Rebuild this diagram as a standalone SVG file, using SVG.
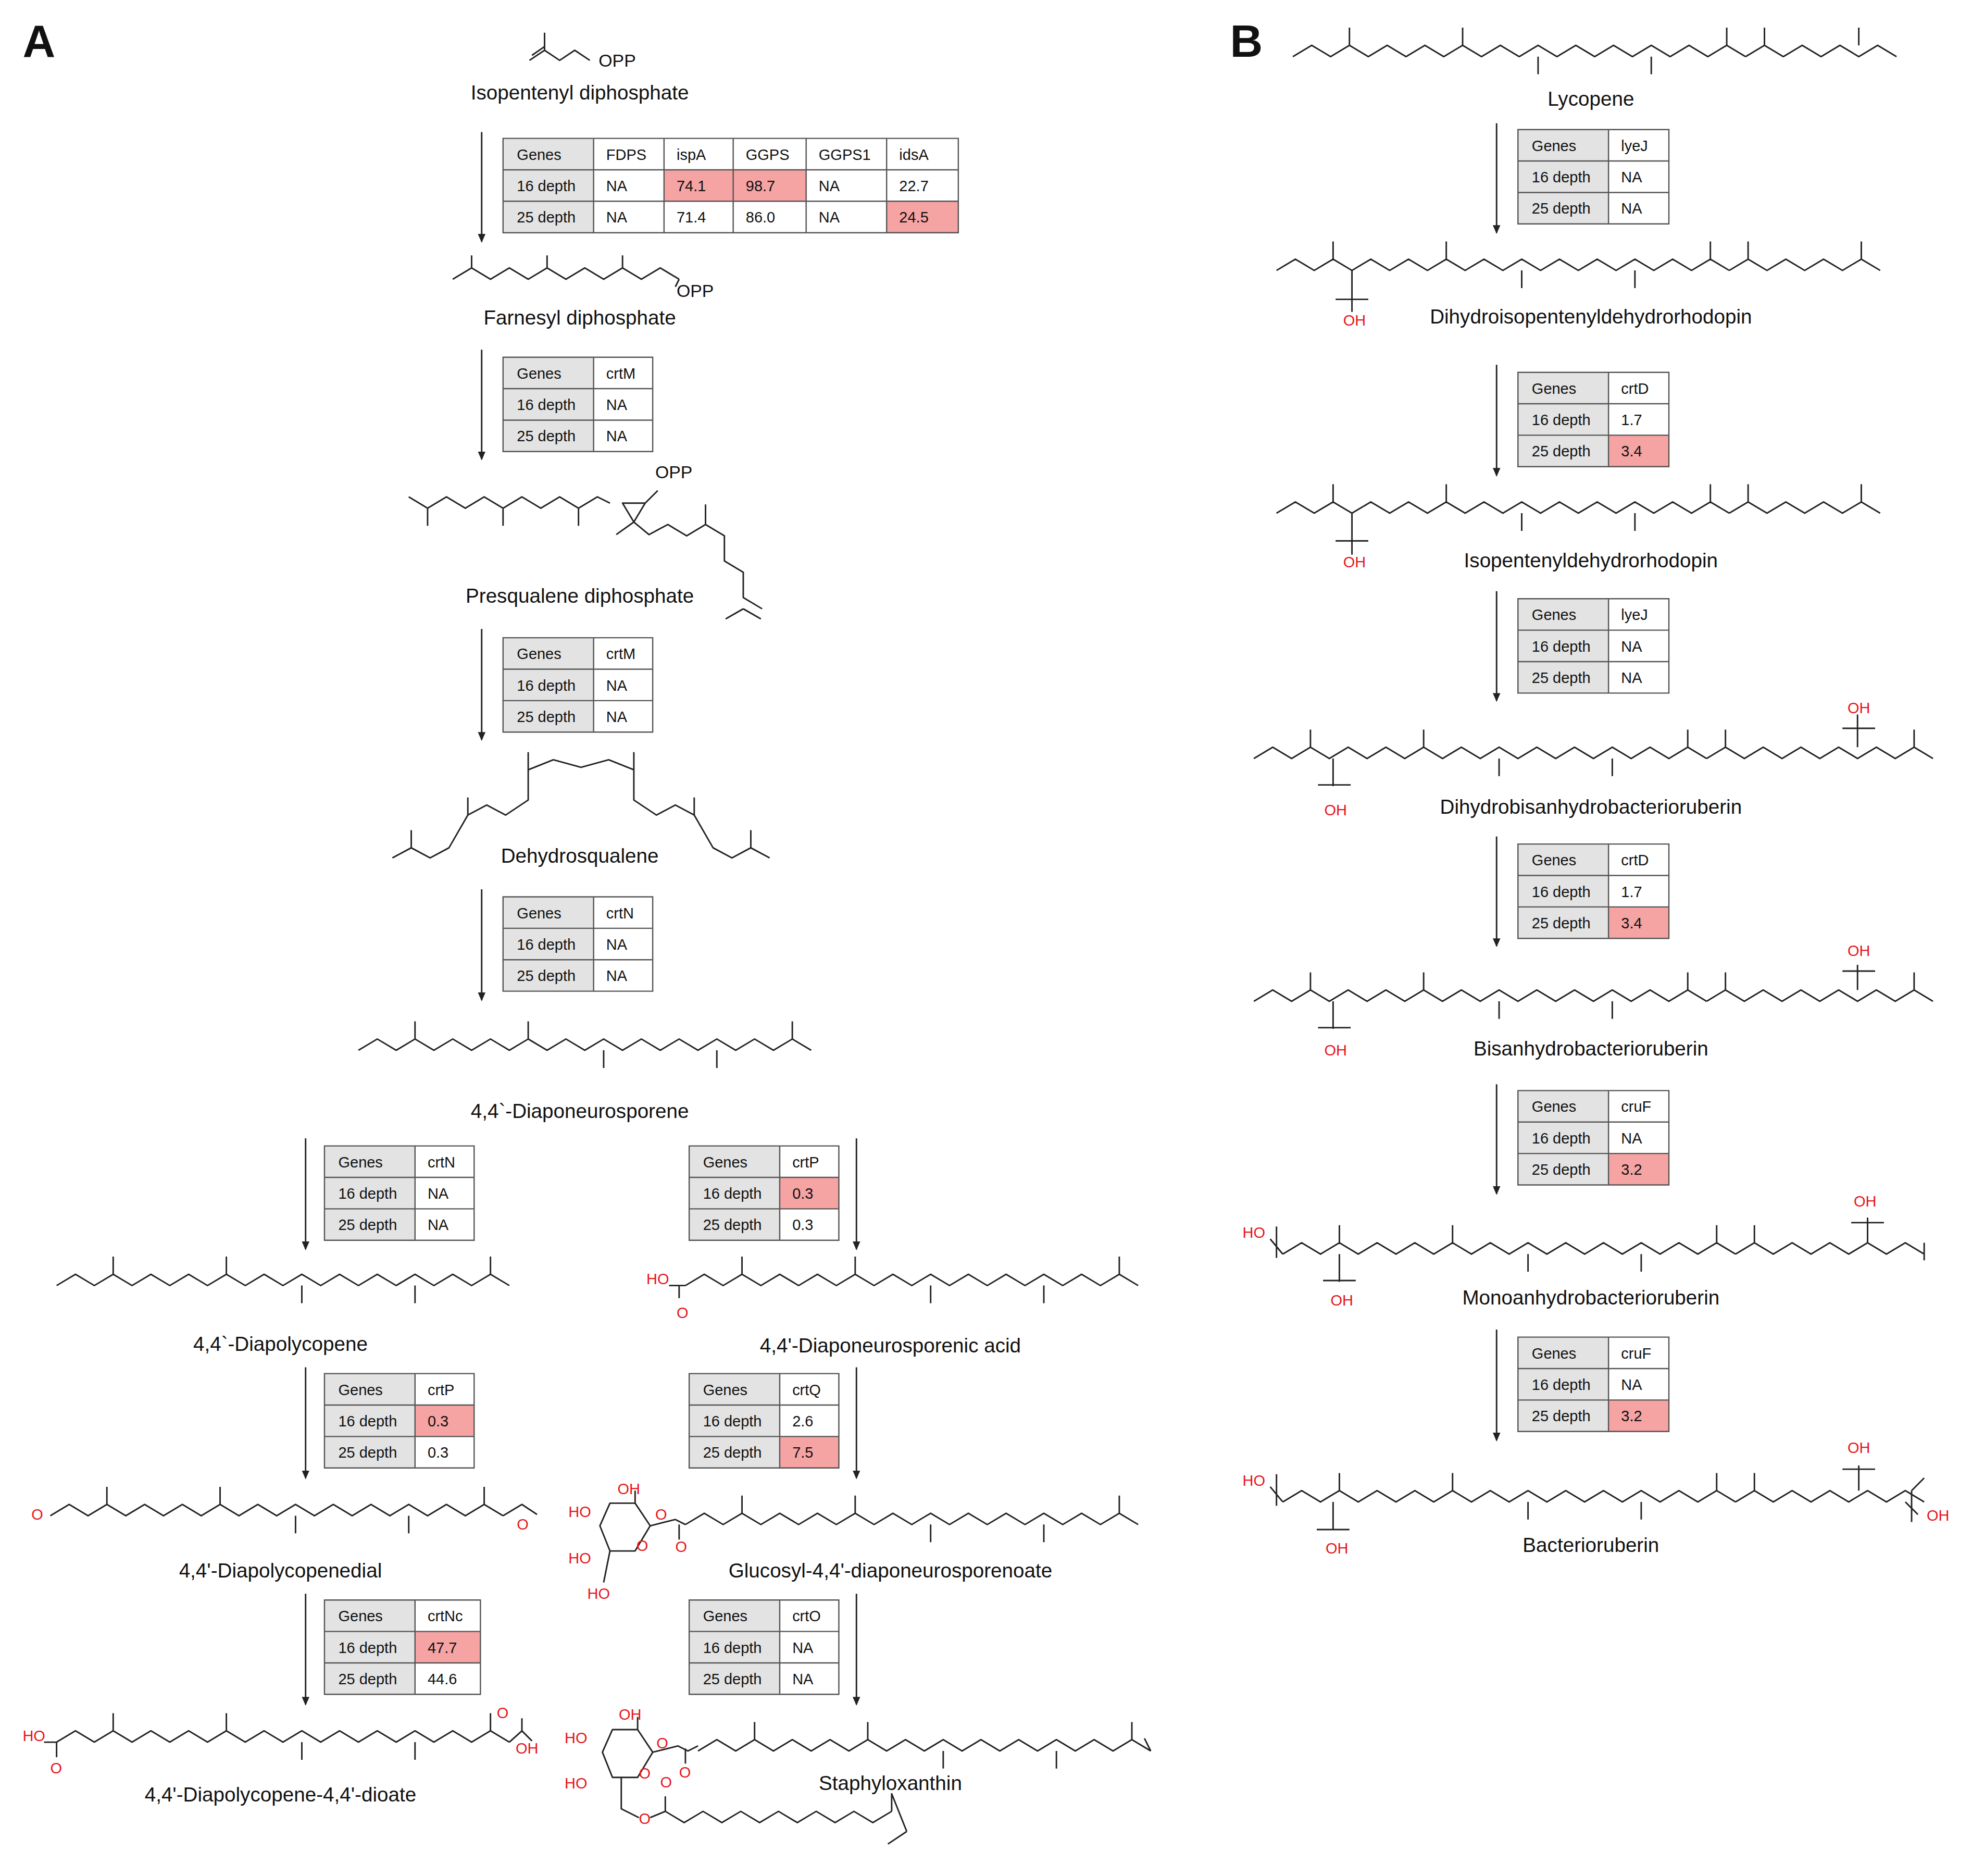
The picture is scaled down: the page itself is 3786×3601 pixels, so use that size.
<svg xmlns="http://www.w3.org/2000/svg" width="3786" height="3601" viewBox="0 0 3786 3601">
<style>
text{font-family:"Liberation Sans",Arial,sans-serif;fill:#111}
.lb{font-size:16px}
.tt{font-size:12px}
.big{font-size:36px;font-weight:bold}
.r{fill:#e8141a}
.ch{fill:none;stroke:#222;stroke-width:1.2;stroke-linejoin:round}
.gr{fill:#e3e3e3}
.rd{fill:#f5a3a3}
.gl{fill:none;stroke:#555;stroke-width:1}
.ar{stroke:#222;stroke-width:1.2;marker-end:url(#ah)}
</style>
<defs>
<marker id="ah" markerWidth="8" markerHeight="8" refX="6" refY="4" orient="auto" markerUnits="userSpaceOnUse"><path d="M0,1 L7,4 L0,7z" fill="#222"/></marker>
<path id="p12" d="M0,0 l15-9 15 9 15-9 15 9 15-9 15 9 15-9 15 9 15-9 15 9 15-9 15 9 15-9 15 9 15-9 15 9 15-9 15 9 15-9 15 9 15-9 15 9 15-9 15 9"/>
<path id="m12" d="M45,-9 v-14 M135,-9 v-14 M195,0 v14 M285,0 v14 M345,-9 v-14"/>
</defs>
<rect width="3786" height="3601" fill="#fff"/>
<g transform="scale(2.4145)">
<text class="big" x="18" y="45">A</text>
<text class="big" x="978" y="45">B</text>

<g id="connectors">
<line class="ar" x1="383" y1="105" x2="383" y2="192"/>
<line class="ar" x1="383" y1="278" x2="383" y2="365"/>
<line class="ar" x1="383" y1="500" x2="383" y2="588"/>
<line class="ar" x1="383" y1="707" x2="383" y2="795"/>
<line class="ar" x1="243" y1="905" x2="243" y2="993"/>
<line class="ar" x1="681" y1="905" x2="681" y2="993"/>
<line class="ar" x1="243" y1="1087" x2="243" y2="1175"/>
<line class="ar" x1="681" y1="1087" x2="681" y2="1175"/>
<line class="ar" x1="243" y1="1267" x2="243" y2="1355"/>
<line class="ar" x1="681" y1="1267" x2="681" y2="1355"/>
<line class="ar" x1="1190" y1="98" x2="1190" y2="185"/>
<line class="ar" x1="1190" y1="290" x2="1190" y2="378"/>
<line class="ar" x1="1190" y1="470" x2="1190" y2="557"/>
<line class="ar" x1="1190" y1="665" x2="1190" y2="752"/>
<line class="ar" x1="1190" y1="862" x2="1190" y2="949"/>
<line class="ar" x1="1190" y1="1057" x2="1190" y2="1145"/>
</g>

<g id="t1" transform="translate(400,110)">
<rect class="gr" width="72" height="75"/><rect class="rd" x="128" y="25" width="55" height="25"/><rect class="rd" x="183" y="25" width="58" height="25"/><rect class="rd" x="305" y="50" width="57" height="25"/>
<path class="gl" d="M0,0h362v75h-362z M0,25h362 M0,50h362 M72,0v75 M128,0v75 M183,0v75 M241,0v75 M305,0v75"/>
<g class="tt"><text x="11" y="17">Genes</text><text x="11" y="42">16 depth</text><text x="11" y="67">25 depth</text>
<text x="82" y="17">FDPS</text><text x="82" y="42">NA</text><text x="82" y="67">NA</text>
<text x="138" y="17">ispA</text><text x="138" y="42">74.1</text><text x="138" y="67">71.4</text>
<text x="193" y="17">GGPS</text><text x="193" y="42">98.7</text><text x="193" y="67">86.0</text>
<text x="251" y="17">GGPS1</text><text x="251" y="42">NA</text><text x="251" y="67">NA</text>
<text x="315" y="17">idsA</text><text x="315" y="42">22.7</text><text x="315" y="67">24.5</text></g>
</g>
<g id="t2" transform="translate(400,284)"><rect class="gr" width="72" height="75"/><path class="gl" d="M0,0h119v75h-119z M0,25h119 M0,50h119 M72,0v75"/><g class="tt"><text x="11" y="17">Genes</text><text x="11" y="42">16 depth</text><text x="11" y="67">25 depth</text><text x="82" y="17">crtM</text><text x="82" y="42">NA</text><text x="82" y="67">NA</text></g></g>
<g id="t3" transform="translate(400,507)"><rect class="gr" width="72" height="75"/><path class="gl" d="M0,0h119v75h-119z M0,25h119 M0,50h119 M72,0v75"/><g class="tt"><text x="11" y="17">Genes</text><text x="11" y="42">16 depth</text><text x="11" y="67">25 depth</text><text x="82" y="17">crtM</text><text x="82" y="42">NA</text><text x="82" y="67">NA</text></g></g>
<g id="t4" transform="translate(400,713)"><rect class="gr" width="72" height="75"/><path class="gl" d="M0,0h119v75h-119z M0,25h119 M0,50h119 M72,0v75"/><g class="tt"><text x="11" y="17">Genes</text><text x="11" y="42">16 depth</text><text x="11" y="67">25 depth</text><text x="82" y="17">crtN</text><text x="82" y="42">NA</text><text x="82" y="67">NA</text></g></g>
<g id="t5" transform="translate(258,911)"><rect class="gr" width="72" height="75"/><path class="gl" d="M0,0h119v75h-119z M0,25h119 M0,50h119 M72,0v75"/><g class="tt"><text x="11" y="17">Genes</text><text x="11" y="42">16 depth</text><text x="11" y="67">25 depth</text><text x="82" y="17">crtN</text><text x="82" y="42">NA</text><text x="82" y="67">NA</text></g></g>
<g id="t6" transform="translate(548,911)"><rect class="gr" width="72" height="75"/><rect class="rd" x="72" y="25" width="47" height="25"/><path class="gl" d="M0,0h119v75h-119z M0,25h119 M0,50h119 M72,0v75"/><g class="tt"><text x="11" y="17">Genes</text><text x="11" y="42">16 depth</text><text x="11" y="67">25 depth</text><text x="82" y="17">crtP</text><text x="82" y="42">0.3</text><text x="82" y="67">0.3</text></g></g>
<g id="t7" transform="translate(258,1092)"><rect class="gr" width="72" height="75"/><rect class="rd" x="72" y="25" width="47" height="25"/><path class="gl" d="M0,0h119v75h-119z M0,25h119 M0,50h119 M72,0v75"/><g class="tt"><text x="11" y="17">Genes</text><text x="11" y="42">16 depth</text><text x="11" y="67">25 depth</text><text x="82" y="17">crtP</text><text x="82" y="42">0.3</text><text x="82" y="67">0.3</text></g></g>
<g id="t8" transform="translate(548,1092)"><rect class="gr" width="72" height="75"/><rect class="rd" x="72" y="50" width="47" height="25"/><path class="gl" d="M0,0h119v75h-119z M0,25h119 M0,50h119 M72,0v75"/><g class="tt"><text x="11" y="17">Genes</text><text x="11" y="42">16 depth</text><text x="11" y="67">25 depth</text><text x="82" y="17">crtQ</text><text x="82" y="42">2.6</text><text x="82" y="67">7.5</text></g></g>
<g id="t9" transform="translate(258,1272)"><rect class="gr" width="72" height="75"/><rect class="rd" x="72" y="25" width="52" height="25"/><path class="gl" d="M0,0h124v75h-124z M0,25h124 M0,50h124 M72,0v75"/><g class="tt"><text x="11" y="17">Genes</text><text x="11" y="42">16 depth</text><text x="11" y="67">25 depth</text><text x="82" y="17">crtNc</text><text x="82" y="42">47.7</text><text x="82" y="67">44.6</text></g></g>
<g id="t10" transform="translate(548,1272)"><rect class="gr" width="72" height="75"/><path class="gl" d="M0,0h119v75h-119z M0,25h119 M0,50h119 M72,0v75"/><g class="tt"><text x="11" y="17">Genes</text><text x="11" y="42">16 depth</text><text x="11" y="67">25 depth</text><text x="82" y="17">crtO</text><text x="82" y="42">NA</text><text x="82" y="67">NA</text></g></g>

<g id="tb1" transform="translate(1207,103)"><rect class="gr" width="72" height="75"/><path class="gl" d="M0,0h120v75h-120z M0,25h120 M0,50h120 M72,0v75"/><g class="tt"><text x="11" y="17">Genes</text><text x="11" y="42">16 depth</text><text x="11" y="67">25 depth</text><text x="82" y="17">lyeJ</text><text x="82" y="42">NA</text><text x="82" y="67">NA</text></g></g>
<g id="tb2" transform="translate(1207,296)"><rect class="gr" width="72" height="75"/><rect class="rd" x="72" y="50" width="48" height="25"/><path class="gl" d="M0,0h120v75h-120z M0,25h120 M0,50h120 M72,0v75"/><g class="tt"><text x="11" y="17">Genes</text><text x="11" y="42">16 depth</text><text x="11" y="67">25 depth</text><text x="82" y="17">crtD</text><text x="82" y="42">1.7</text><text x="82" y="67">3.4</text></g></g>
<g id="tb3" transform="translate(1207,476)"><rect class="gr" width="72" height="75"/><path class="gl" d="M0,0h120v75h-120z M0,25h120 M0,50h120 M72,0v75"/><g class="tt"><text x="11" y="17">Genes</text><text x="11" y="42">16 depth</text><text x="11" y="67">25 depth</text><text x="82" y="17">lyeJ</text><text x="82" y="42">NA</text><text x="82" y="67">NA</text></g></g>
<g id="tb4" transform="translate(1207,671)"><rect class="gr" width="72" height="75"/><rect class="rd" x="72" y="50" width="48" height="25"/><path class="gl" d="M0,0h120v75h-120z M0,25h120 M0,50h120 M72,0v75"/><g class="tt"><text x="11" y="17">Genes</text><text x="11" y="42">16 depth</text><text x="11" y="67">25 depth</text><text x="82" y="17">crtD</text><text x="82" y="42">1.7</text><text x="82" y="67">3.4</text></g></g>
<g id="tb5" transform="translate(1207,867)"><rect class="gr" width="72" height="75"/><rect class="rd" x="72" y="50" width="48" height="25"/><path class="gl" d="M0,0h120v75h-120z M0,25h120 M0,50h120 M72,0v75"/><g class="tt"><text x="11" y="17">Genes</text><text x="11" y="42">16 depth</text><text x="11" y="67">25 depth</text><text x="82" y="17">cruF</text><text x="82" y="42">NA</text><text x="82" y="67">3.2</text></g></g>
<g id="tb6" transform="translate(1207,1063)"><rect class="gr" width="72" height="75"/><rect class="rd" x="72" y="50" width="48" height="25"/><path class="gl" d="M0,0h120v75h-120z M0,25h120 M0,50h120 M72,0v75"/><g class="tt"><text x="11" y="17">Genes</text><text x="11" y="42">16 depth</text><text x="11" y="67">25 depth</text><text x="82" y="17">cruF</text><text x="82" y="42">NA</text><text x="82" y="67">3.2</text></g></g>

<g id="ipp"><path class="ch" d="M421,48 l12,-8 v-14 M433,40 l12,8 12,-8 12,8 M423,44 l10,-7"/><text x="476" y="53" style="font-size:14px">OPP</text></g>
<text class="lb" x="461" y="79" text-anchor="middle">Isopentenyl diphosphate</text>
<g id="fpp"><path class="ch" d="M360,222 l15-9 15 9 15-9 15 9 15-9 15 9 15-9 15 9 15-9 15 9 15-9 15 9 M375,213 v-10 M435,213 v-10 M495,213 v-10 M540,222 l-3,6"/><text x="538" y="236" style="font-size:14px">OPP</text></g>
<text class="lb" x="461" y="258" text-anchor="middle">Farnesyl diphosphate</text>
<g id="psq"><path class="ch" d="M325,395 l15,9 15-9 15 9 15-9 15 9 15-9 15 9 15-9 15 9 15-9 10 5 M340,404 v14 M400,404 v14 M460,404 v14 M495,400 l18,0 -9,15z M513,400 l10,-10 M504,415 l-14,10 M504,415 l12,10 15,-8 15,9 15,-9 15,9 v20 l15,9 v20 l15,9 M561,417 v-16 M591,484 l-14,8 M591,484 l14,8"/><text x="521" y="380" style="font-size:14px">OPP</text></g>
<text class="lb" x="461" y="479" text-anchor="middle">Presqualene diphosphate</text>
<g id="dhs"><path class="ch" d="M312,682 L327,674 342,682 357,674 372,648 387,640 402,648 420,636 420,612 440,604 462,610 484,604 504,612 504,636 522,648 537,640 552,648 567,674 582,682 597,674 612,682 M327,674 v-14 M372,648 v-14 M420,612 v-14 M504,612 v-14 M552,648 v-14 M597,674 v-14"/></g>
<text class="lb" x="461" y="686" text-anchor="middle">Dehydrosqualene</text>
<g id="dnp" class="ch"><use href="#p12" x="285" y="835"/><use href="#m12" x="285" y="835"/></g>
<text class="lb" x="461" y="889" text-anchor="middle">4,4`-Diaponeurosporene</text>
<g id="dpl" class="ch"><use href="#p12" x="45" y="1022"/><use href="#m12" x="45" y="1022"/></g>
<text class="lb" x="223" y="1074" text-anchor="middle">4,4`-Diapolycopene</text>
<g id="dna"><g class="ch"><use href="#p12" x="545" y="1022"/><use href="#m12" x="545" y="1022"/><path d="M532,1022 l13,0 M540,1022 v10"/></g><text class="tt r" x="514" y="1021">HO</text><text class="tt r" x="538" y="1048">O</text></g>
<text class="lb" x="708" y="1075" text-anchor="middle">4,4'-Diaponeurosporenic acid</text>
<g id="dpd"><g class="ch"><use href="#p12" x="40" y="1205"/><use href="#m12" x="40" y="1205"/><path d="M400,1205 l15,-9 12,8"/></g><text class="tt r" x="25" y="1208">O</text><text class="tt r" x="411" y="1216">O</text></g>
<text class="lb" x="223" y="1254" text-anchor="middle">4,4'-Diapolycopenedial</text>
<g id="glc"><g class="ch"><use href="#p12" x="545" y="1212"/><use href="#m12" x="545" y="1212"/><path d="M485,1195 l20,0 12,18 -12,20 -20,0 -8,-20z M485,1233 l-5,25 M505,1195 v-10 M517,1213 l20,-5 8,4 M540,1212 v12"/></g><text class="tt r" x="491" y="1188">OH</text><text class="tt r" x="452" y="1206">HO</text><text class="tt r" x="452" y="1243">HO</text><text class="tt r" x="467" y="1271">HO</text><text class="tt r" x="506" y="1233">O</text><text class="tt r" x="521" y="1208">O</text><text class="tt r" x="537" y="1234">O</text></g>
<text class="lb" x="708" y="1254" text-anchor="middle">Glucosyl-4,4'-diaponeurosporenoate</text>
<g id="dio"><g class="ch"><use href="#p12" x="45" y="1385"/><use href="#m12" x="45" y="1385"/><path d="M35,1385 l10,0 M45,1385 v12 M405,1385 l10,-9 v-10 M415,1376 l8,8"/></g><text class="tt r" x="18" y="1384">HO</text><text class="tt r" x="40" y="1410">O</text><text class="tt r" x="395" y="1366">O</text><text class="tt r" x="410" y="1394">OH</text></g>
<text class="lb" x="223" y="1432" text-anchor="middle">4,4'-Diapolycopene-4,4'-dioate</text>
<g id="stx"><g class="ch"><use href="#p12" x="555" y="1392"/><use href="#m12" x="555" y="1392"/><path d="M915,1392 l-5,-10 M487,1375 l20,0 12,18 -12,20 -20,0 -8,-20z M494,1413 l0,25 14,7 M507,1375 v-10 M519,1393 l20,-5 8,4 8,-4 M545,1390 v12 M517,1445 l12,-5 v-12 M529,1440 l15,9 15-9 15 9 15-9 15 9 15-9 15 9 15-9 15 9 15-9 15 9 15-9 M709,1440 v-14 l12,30 M721,1456 l-15,10"/></g><text class="tt r" x="492" y="1367">OH</text><text class="tt r" x="449" y="1386">HO</text><text class="tt r" x="449" y="1422">HO</text><text class="tt r" x="508" y="1414">O</text><text class="tt r" x="522" y="1390">O</text><text class="tt r" x="540" y="1413">O</text><text class="tt r" x="508" y="1450">O</text><text class="tt r" x="525" y="1421">O</text></g>
<text class="lb" x="708" y="1423" text-anchor="middle">Staphyloxanthin</text>

<g id="lyc" class="ch"><use href="#p12" x="1028" y="45"/><use href="#m12" x="1028" y="45"/><path d="M1388,45 l15-9 15 9 15-9 15 9 15-9 15 9 15-9 15 9 M1403,36 v-14 M1478,36 v-14"/></g>
<text class="lb" x="1265" y="84" text-anchor="middle">Lycopene</text>
<g id="b1"><g class="ch"><use href="#p12" x="1015" y="215"/><use href="#m12" x="1015" y="215"/><path d="M1375,215 l15-9 15 9 15-9 15 9 15-9 15 9 15-9 15 9 M1390,206 v-14 M1480,206 v-14 M1075,215 v25 M1062,238 h26 M1075,240 v8"/></g><text class="tt r" x="1068" y="259">OH</text></g>
<text class="lb" x="1265" y="257" text-anchor="middle">Dihydroisopentenyldehydrorhodopin</text>
<g id="b2"><g class="ch"><use href="#p12" x="1015" y="408"/><use href="#m12" x="1015" y="408"/><path d="M1375,408 l15-9 15 9 15-9 15 9 15-9 15 9 15-9 15 9 M1390,399 v-14 M1480,399 v-14 M1075,408 v25 M1062,430 h26 M1075,433 v8"/></g><text class="tt r" x="1068" y="451">OH</text></g>
<text class="lb" x="1265" y="451" text-anchor="middle">Isopentenyldehydrorhodopin</text>
<g id="b3"><g class="ch"><use href="#p12" x="997" y="603"/><use href="#m12" x="997" y="603"/><path d="M1357,603 l15-9 15 9 15-9 15 9 15-9 15 9 15-9 15 9 15-9 15 9 15-9 15 9 M1372,594 v-14 M1477,594 v-20 M1465,579 h26 M1477,574 v-6 M1522,594 v-14 M1060,603 v22 M1048,624 h26"/></g><text class="tt r" x="1053" y="648">OH</text><text class="tt r" x="1469" y="567">OH</text></g>
<text class="lb" x="1265" y="647" text-anchor="middle">Dihydrobisanhydrobacterioruberin</text>
<g id="b4"><g class="ch"><use href="#p12" x="997" y="796"/><use href="#m12" x="997" y="796"/><path d="M1357,796 l15-9 15 9 15-9 15 9 15-9 15 9 15-9 15 9 15-9 15 9 15-9 15 9 M1372,787 v-14 M1477,787 v-20 M1465,772 h26 M1522,787 v-14 M1060,796 v22 M1048,817 h26"/></g><text class="tt r" x="1053" y="839">OH</text><text class="tt r" x="1469" y="760">OH</text></g>
<text class="lb" x="1265" y="839" text-anchor="middle">Bisanhydrobacterioruberin</text>
<g id="b5"><g class="ch"><path d="M1010,985 l10,12 M1015,975 v25"/><use href="#p12" x="1020" y="997"/><use href="#m12" x="1020" y="997"/><path d="M1380,997 l15-9 15 9 15-9 15 9 15-9 15 9 15-9 15 9 15-9 15 9 M1395,988 v-14 M1485,988 v-20 M1472,972 h26 M1530,988 v14 M1065,997 v22 M1052,1018 h26"/></g><text class="tt r" x="988" y="984">HO</text><text class="tt r" x="1058" y="1038">OH</text><text class="tt r" x="1474" y="959">OH</text></g>
<text class="lb" x="1265" y="1037" text-anchor="middle">Monoanhydrobacterioruberin</text>
<g id="b6"><g class="ch"><path d="M1010,1182 l10,12 M1015,1172 v25"/><use href="#p12" x="1020" y="1194"/><use href="#m12" x="1020" y="1194"/><path d="M1380,1194 l15-9 15 9 15-9 15 9 15-9 15 9 15-9 15 9 15-9 15 9 M1395,1185 v-14 M1478,1185 v-20 M1465,1168 h26 M1515,1194 l10,10 M1520,1185 l10,-10 M1520,1185 v25 M1060,1194 v22 M1047,1216 h26"/></g><text class="tt r" x="988" y="1181">HO</text><text class="tt r" x="1054" y="1235">OH</text><text class="tt r" x="1469" y="1155">OH</text><text class="tt r" x="1532" y="1209">OH</text></g>
<text class="lb" x="1265" y="1234" text-anchor="middle">Bacterioruberin</text>
</g>
</svg>
